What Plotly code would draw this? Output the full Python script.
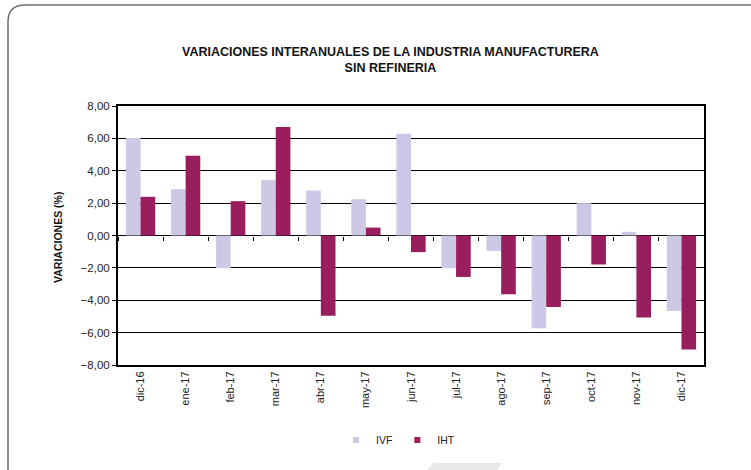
import plotly.graph_objects as go

categories = ["dic-16", "ene-17", "feb-17", "mar-17", "abr-17", "may-17", "jun-17",
              "jul-17", "ago-17", "sep-17", "oct-17", "nov-17", "dic-17"]
ivf = [6.03, 2.86, -2.02, 3.42, 2.78, 2.24, 6.28, -2.02, -0.95, -5.73, 2.00, 0.23, -4.66]
iht = [2.39, 4.92, 2.12, 6.71, -4.96, 0.49, -1.03, -2.56, -3.63, -4.41, -1.79, -5.07, -7.05]
y_ticks = [-8, -6, -4, -2, 0, 2, 4, 6, 8]
series_names = ["IVF", "IHT"]
series_colors = ["#CBC9E5", "#991E5D"]

W, H = 751, 470
L, R, T, B = 118, 47, 106, 105
PW, PH = W - L - R, H - T - B


def px(x):
    return (x - L) / PW


def py(y):
    return 1 - (y - T) / PH


fig = go.Figure()
for name, vals, col in zip(series_names, [ivf, iht], series_colors):
    fig.add_trace(go.Bar(name=name, x=categories, y=vals, showlegend=False,
                         marker=dict(color=col, line=dict(width=0))))
# legend entries with small square markers
for name, col in zip(series_names, series_colors):
    fig.add_trace(go.Scatter(name=name, x=[None], y=[None], mode="markers",
                             marker=dict(symbol="square", size=6, color=col)))
# helper trace for the zero-line axis with category boundary ticks
fig.add_trace(go.Scatter(x=categories, y=[None] * len(categories), xaxis="x2", mode="lines",
                         showlegend=False, hoverinfo="skip"))

font = "Liberation Sans, Arial, sans-serif"

border_path = (f"M {px(8)},{py(475)} L {px(8)},{py(22)} "
               f"Q {px(8)},{py(5)} {px(25)},{py(5)} L {px(770)},{py(5)}")
wm_path = (f"M {px(426)},{py(472)} L {px(433)},{py(463)} L {px(502)},{py(463)} "
           f"L {px(495)},{py(472)} Z")

fig.update_layout(
    width=W, height=H,
    margin=dict(l=L, r=R, t=T, b=B),
    paper_bgcolor="white", plot_bgcolor="white",
    separators=",.",
    barmode="group", bargap=0.35, bargroupgap=0,
    font=dict(family=font, size=11, color="#222222"),
    showlegend=True,
    legend=dict(orientation="h", x=px(398), xanchor="center", y=py(440), yanchor="middle",
                font=dict(size=10.5, color="#222222"), itemwidth=30, traceorder="normal",
                bgcolor="rgba(0,0,0,0)", tracegroupgap=0),
    xaxis=dict(type="category", range=[-0.5, 12.5], showline=True, mirror=True, linewidth=2,
               linecolor="black", ticks="", tickangle=-90, showgrid=False,
               tickfont=dict(size=11, color="#222222")),
    xaxis2=dict(type="category", range=[-0.5, 12.5], overlaying="x", anchor="free", position=0.5,
                side="bottom", showticklabels=False, ticks="outside", ticklen=4, tickwidth=1,
                tickcolor="black", tickson="boundaries", showline=False, showgrid=False),
    yaxis=dict(range=[-8, 8], tickvals=y_ticks, tickformat=".2f", showline=True, mirror=True,
               linewidth=2, linecolor="black", ticks="outside", ticklen=4, tickwidth=1,
               tickcolor="black", showgrid=True, gridcolor="black", gridwidth=1,
               zeroline=True, zerolinecolor="black", zerolinewidth=1,
               tickfont=dict(size=11.5, color="#222222")),
    shapes=[
        dict(type="path", path=border_path, xref="paper", yref="paper",
             line=dict(color="#6E6E6E", width=1.5), layer="below"),
        dict(type="path", path=wm_path, xref="paper", yref="paper",
             fillcolor="#E8E8E8", line=dict(width=0), layer="below"),
    ],
    annotations=[
        dict(text="<b>VARIACIONES INTERANUALES DE LA INDUSTRIA MANUFACTURERA</b><br><b>SIN REFINERIA</b>",
             x=px(390), y=py(60), xref="paper", yref="paper", xanchor="center", yanchor="middle",
             showarrow=False, font=dict(size=12.5, color="#111111", family=font)),
        dict(text="<b>VARIACIONES (%)</b>", x=px(58), y=py(238), xref="paper", yref="paper",
             xanchor="center", yanchor="middle", textangle=-90, showarrow=False,
             font=dict(size=10.5, color="#111111", family=font)),
    ],
)

fig.write_html("out.html", config={"displayModeBar": False},
               post_script="document.body.style.margin='0';")
